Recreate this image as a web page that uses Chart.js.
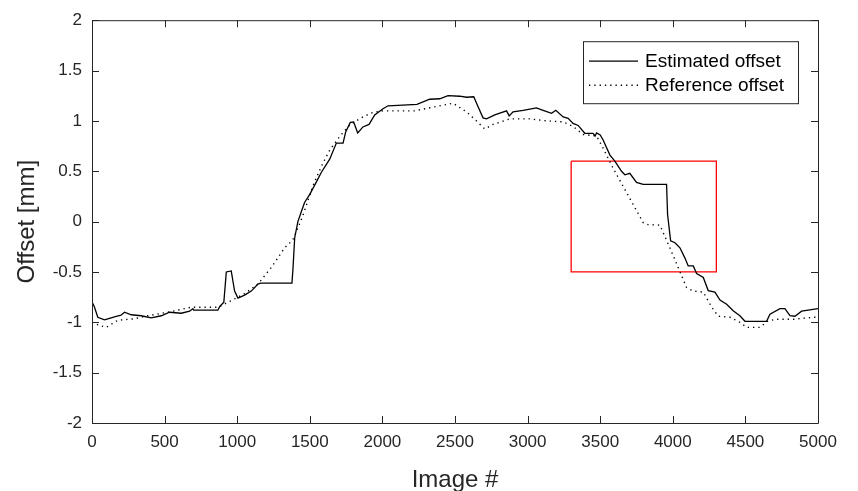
<!DOCTYPE html>
<html>
<head>
<meta charset="utf-8">
<script src="https://cdn.jsdelivr.net/npm/chart.js@4.4.1/dist/chart.umd.min.js"></script>
<style>
  html, body { margin: 0; padding: 0; background: #fff; }
  #wrap { width: 858px; height: 491px; }
</style>
</head>
<body>
<div id="wrap"><canvas id="chart" width="858" height="491"></canvas></div>
<script>
// tick labels
const xTicks = [0, 500, 1000, 1500, 2000, 2500, 3000, 3500, 4000, 4500, 5000]
const yTicks = [-2, -1.5, -1, -0.5, 0, 0.5, 1, 1.5, 2]

// estimated offset (solid line)
const estX = [0, 15, 40, 86, 132, 167, 200, 224, 270, 339, 408, 477, 534, 615, 672, 695, 700, 867, 879, 908,
  925, 959, 982, 1005, 1051, 1097, 1143, 1160, 1377, 1384, 1396, 1418, 1442, 1464, 1500, 1540, 1580, 1637,
  1683, 1729, 1747, 1779, 1802, 1830, 1866, 1908, 1947, 2004, 2039, 2107, 2238, 2326, 2395, 2452, 2533,
  2579, 2629, 2659, 2693, 2717, 2774, 2855, 2873, 2900, 2969, 3061, 3107, 3165, 3194, 3245, 3279, 3313,
  3348, 3394, 3451, 3465, 3475, 3500, 3520, 3567, 3601, 3647, 3670, 3704, 3750, 3796, 3957, 3964, 3985,
  4015, 4049, 4083, 4106, 4141, 4164, 4210, 4244, 4290, 4325, 4371, 4416, 4462, 4497, 4646, 4669, 4738,
  4772, 4807, 4841, 4887, 5000]
const estY = [-0.80, -0.84, -0.95, -0.975, -0.955, -0.94, -0.93, -0.90, -0.925, -0.935, -0.955, -0.935, -0.90, -0.91, -0.89, -0.865, -0.88, -0.88, -0.845, -0.80,
  -0.50, -0.49, -0.69, -0.76, -0.73, -0.69, -0.62, -0.61, -0.61, -0.47, -0.16, 0.0, 0.10, 0.19, 0.27, 0.38, 0.49, 0.62,
  0.78, 0.78, 0.89, 0.985, 0.99, 0.88, 0.94, 0.965, 1.06, 1.12, 1.15, 1.155, 1.165, 1.215, 1.22, 1.25, 1.245,
  1.235, 1.24, 1.14, 1.03, 1.02, 1.06, 1.10, 1.05, 1.09, 1.105, 1.13, 1.105, 1.075, 1.105, 1.04, 1.025, 0.975,
  0.955, 0.877, 0.877, 0.85, 0.88, 0.86, 0.81, 0.66, 0.60, 0.50, 0.465, 0.48, 0.39, 0.37, 0.37, 0.07, -0.19,
  -0.21, -0.26, -0.36, -0.44, -0.44, -0.515, -0.555, -0.685, -0.70, -0.78, -0.82, -0.885, -0.935, -0.99, -0.99, -0.92, -0.865,
  -0.865, -0.935, -0.94, -0.89, -0.865]

// reference offset (dotted line)
const refX = [0, 50, 98, 178, 293, 385, 522, 684, 867, 959, 1051, 1143, 1235, 1327, 1384, 1450, 1520, 1580, 1637,
  1706, 1775, 1866, 1935, 2004, 2223, 2326, 2487, 2579, 2648, 2705, 2762, 2877, 3015, 3130, 3245, 3313, 3382,
  3475, 3520, 3589, 3658, 3727, 3796, 3830, 3911, 3980, 4037, 4095, 4141, 4210, 4268, 4313, 4394, 4462, 4509,
  4600, 4657, 4715, 4830, 4968, 5000]
const refY = [-1.0, -1.03, -1.05, -0.98, -0.965, -0.935, -0.90, -0.85, -0.85, -0.785, -0.715, -0.62, -0.455, -0.26, -0.18, 0.05, 0.35, 0.55, 0.71,
  0.845, 0.96, 1.04, 1.085, 1.10, 1.10, 1.13, 1.175, 1.09, 1.0, 0.92, 0.965, 1.02, 1.02, 1.0, 0.99, 0.945, 0.865,
  0.85, 0.73, 0.53, 0.35, 0.17, -0.01, -0.03, -0.035, -0.26, -0.455, -0.655, -0.69, -0.70, -0.85, -0.94, -0.95, -1.0, -1.05,
  -1.05, -0.985, -0.97, -0.97, -0.95, -0.95]

// red highlight box
const boxX = [3300, 4300, 4300, 3300, 3300]
const boxY = [0.6, 0.6, -0.5, -0.5, 0.6]

const axisColor = '#262626'
const fontFamily = '"Liberation Sans", Arial, Helvetica, sans-serif'

const toPoints = (xs, ys) => xs.map((x, i) => ({ x: x, y: ys[i] }))

// box around the plot with inward ticks, like matlab
const matlabAxes = {
  id: 'matlabAxes',
  afterDraw(chart) {
    const { ctx, chartArea: a, scales } = chart
    const len = 7
    ctx.save()
    ctx.strokeStyle = axisColor
    ctx.lineWidth = 1
    ctx.beginPath()
    ctx.rect(a.left + 0.5, a.top + 0.5, a.right - a.left, a.bottom - a.top)
    xTicks.forEach(v => {
      const px = Math.round(scales.x.getPixelForValue(v)) + 0.5
      ctx.moveTo(px, a.bottom); ctx.lineTo(px, a.bottom - len)
      ctx.moveTo(px, a.top); ctx.lineTo(px, a.top + len)
    })
    yTicks.forEach(v => {
      const py = Math.round(scales.y.getPixelForValue(v)) + 0.5
      ctx.moveTo(a.left, py); ctx.lineTo(a.left + len, py)
      ctx.moveTo(a.right, py); ctx.lineTo(a.right - len, py)
    })
    ctx.stroke()

    // legend box (top right inside the axes)
    const lx = a.right - 235, ly = a.top + 21, lw = 215, lh = 62
    ctx.fillStyle = '#fff'
    ctx.fillRect(lx, ly, lw, lh)
    ctx.strokeRect(lx + 0.5, ly + 0.5, lw, lh)
    const items = chart.data.datasets.filter(d => d.inLegend)
    items.forEach((d, i) => {
      const y = ly + 20 + i * 24
      ctx.beginPath()
      ctx.strokeStyle = d.borderColor
      ctx.lineWidth = d.borderWidth
      ctx.setLineDash(d.borderDash || [])
      ctx.moveTo(lx + 6, y); ctx.lineTo(lx + 55, y)
      ctx.stroke()
      ctx.setLineDash([])
      ctx.fillStyle = '#000'
      ctx.font = '19px ' + fontFamily
      ctx.textBaseline = 'middle'
      ctx.fillText(d.label, lx + 62, y + 1)
    })
    ctx.restore()
  }
}

new Chart(document.getElementById('chart'), {
  type: 'line',
  data: {
    datasets: [
      {
        label: 'Estimated offset',
        inLegend: true,
        data: toPoints(estX, estY),
        borderColor: '#000',
        borderWidth: 1.3,
        pointRadius: 0,
        tension: 0
      },
      {
        label: 'Reference offset',
        inLegend: true,
        data: toPoints(refX, refY),
        borderColor: '#000',
        borderWidth: 1.4,
        borderDash: [1.3, 4],
        pointRadius: 0,
        tension: 0
      },
      {
        label: 'box',
        data: toPoints(boxX, boxY),
        borderColor: '#ff0000',
        borderWidth: 1.3,
        pointRadius: 0,
        tension: 0
      }
    ]
  },
  options: {
    responsive: false,
    animation: false,
    layout: { padding: { top: 18, right: 40, left: 0, bottom: 0 } },
    plugins: {
      legend: { display: false },
      tooltip: { enabled: false }
    },
    scales: {
      x: {
        type: 'linear',
        min: 0,
        max: 5000,
        afterBuildTicks: s => { s.ticks = xTicks.map(v => ({ value: v })) },
        afterFit: s => { s.height = 68 },
        grid: { display: false, drawTicks: false },
        border: { display: false },
        ticks: {
          color: axisColor,
          padding: 9,
          maxRotation: 0,
          font: { family: fontFamily, size: 17 },
          callback: v => String(v)
        },
        title: {
          display: true,
          text: 'Image #',
          color: axisColor,
          padding: { top: 0, bottom: 3 },
          font: { family: fontFamily, size: 24, lineHeight: 0.6 }
        }
      },
      y: {
        type: 'linear',
        min: -2,
        max: 2,
        afterBuildTicks: s => { s.ticks = yTicks.map(v => ({ value: v })) },
        afterFit: s => { s.width = 92 },
        grid: { display: false, drawTicks: false },
        border: { display: false },
        ticks: {
          color: axisColor,
          padding: 10,
          font: { family: fontFamily, size: 17 },
          callback: v => String(v)
        },
        title: {
          display: true,
          text: 'Offset [mm]',
          color: axisColor,
          padding: { top: 14, bottom: 0 },
          font: { family: fontFamily, size: 24, lineHeight: 1.1 }
        }
      }
    }
  },
  plugins: [matlabAxes]
})
</script>
</body>
</html>
